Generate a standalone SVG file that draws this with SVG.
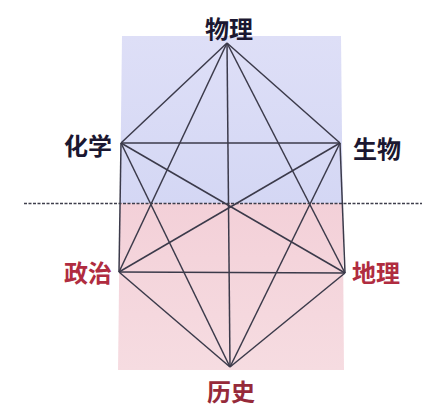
<svg xmlns="http://www.w3.org/2000/svg" width="430" height="409" viewBox="0 0 430 409">
<defs>
<linearGradient id="gTop" x1="0" y1="0" x2="0" y2="1">
<stop offset="0" stop-color="#dedff7"/>
<stop offset="1" stop-color="#d4d7f4"/>
</linearGradient>
<linearGradient id="gBot" x1="0" y1="0" x2="0" y2="1">
<stop offset="0" stop-color="#f3d0d8"/>
<stop offset="1" stop-color="#f6dce1"/>
</linearGradient>
</defs>
<style>
.lbl{font-family:"Noto Sans CJK SC","Noto Sans CJK JP",sans-serif;font-size:24px;font-weight:bold;text-anchor:middle;dominant-baseline:central}
.dark{fill:#1b1730}
.red{fill:#b02c40}
.red2{fill:#962a3a}
.edge{stroke:#3b3a4a;stroke-width:1.5;fill:none}
</style>
<rect width="430" height="409" fill="#ffffff"/>
<g id="background">
<polygon points="122,36 341,36 342.7,203 120,203" fill="url(#gTop)"/>
<polygon points="120,203 342.7,203 344,370 118,370" fill="url(#gBot)"/>
</g>
<g id="connectors">
<line class="edge" x1="227" y1="43" x2="121" y2="143"/>
<line class="edge" x1="227" y1="43" x2="340" y2="143"/>
<line class="edge" x1="227" y1="43" x2="119" y2="272"/>
<line class="edge" x1="227" y1="43" x2="345" y2="273"/>
<line class="edge" x1="227" y1="43" x2="230" y2="367"/>
<line class="edge" x1="121" y1="143" x2="340" y2="143"/>
<line class="edge" x1="121" y1="143" x2="119" y2="272"/>
<line class="edge" x1="121" y1="143" x2="345" y2="273"/>
<line class="edge" x1="121" y1="143" x2="230" y2="367"/>
<line class="edge" x1="340" y1="143" x2="119" y2="272"/>
<line class="edge" x1="340" y1="143" x2="345" y2="273"/>
<line class="edge" x1="340" y1="143" x2="230" y2="367"/>
<line class="edge" x1="119" y1="272" x2="345" y2="273"/>
<line class="edge" x1="119" y1="272" x2="230" y2="367"/>
<line class="edge" x1="345" y1="273" x2="230" y2="367"/>
</g>
<g id="divider">
<line x1="24" y1="203.5" x2="422" y2="203.5" stroke="#3f3f4c" stroke-width="1.6" stroke-dasharray="3,1.5"/>
</g>
<g id="node-wuli"><text class="lbl dark" x="229" y="27">物理</text></g>
<g id="node-huaxue"><text class="lbl dark" x="88" y="144">化学</text></g>
<g id="node-shengwu"><text class="lbl dark" x="377" y="147">生物</text></g>
<g id="node-zhengzhi"><text class="lbl red" x="88" y="271">政治</text></g>
<g id="node-dili"><text class="lbl red" x="376" y="271">地理</text></g>
<g id="node-lishi"><text class="lbl red2" x="231" y="390">历史</text></g>
</svg>
